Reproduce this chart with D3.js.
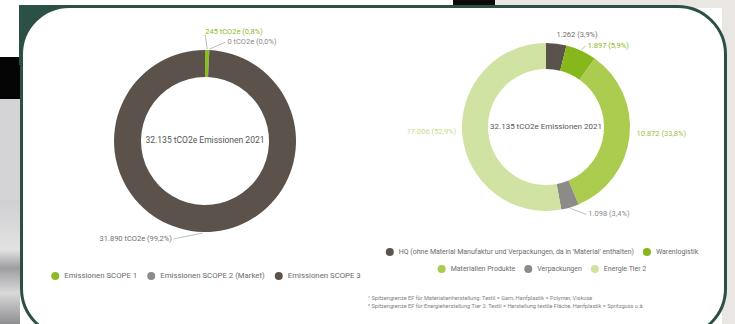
<!DOCTYPE html>
<html>
<head>
<meta charset="utf-8">
<script src="https://cdn.jsdelivr.net/npm/d3@7"></script>
<style>
  body { margin: 0; background: #fff; }
  svg { display: block; font-family: 'Liberation Sans Narrow', 'Roboto', sans-serif; }
</style>
</head>
<body>
<div id="chart"></div>
<script>
// scope chart data
var scopeNames = ["Emissionen SCOPE 1", "Emissionen SCOPE 2 (Market)", "Emissionen SCOPE 3"];
var scopeValues = [245, 0, 31890];
var scopeLabels = ["245 tCO2e (0,8%)", "0 tCO2e (0,0%)", "31.890 tCO2e (99,2%)"];

// category chart data
var catNames = ["HQ (ohne Material Manufaktur und Verpackungen, da in 'Material' enthalten)",
    "Warenlogistik", "Materialien Produkte", "Verpackungen", "Energie Tier 2"];
var catValues = [1262, 1897, 10872, 1098, 17006];
var catLabels = ["1.262 (3,9%)", "1.897 (5,9%)", "10.872 (33,8%)", "1.098 (3,4%)", "17.006 (52,9%)"];

var centerText = "32.135 tCO2e Emissionen 2021";
var footnotes = [
    "¹ Spitzengrenze EF für Materialienherstellung: Textil = Garn, Hanfplastik = Polymer, Viskose",
    "² Spitzengrenze EF für Energieherstellung Tier 2: Textil = Herstellung textile Fläche, Hanfplastik = Spritzguss o.ä."
];

var width = 735, height = 324;
var svg = d3.select("#chart").append("svg")
    .attr("width", width)
    .attr("height", height);

// background bits around the card
var defs = svg.append("defs");
var grad = defs.append("linearGradient").attr("id", "metal")
    .attr("x1", 0).attr("y1", 0).attr("x2", 0).attr("y2", 1);
grad.append("stop").attr("offset", "0%").attr("stop-color", "#cfcfd1");
grad.append("stop").attr("offset", "40%").attr("stop-color", "#e2e2e3");
grad.append("stop").attr("offset", "55%").attr("stop-color", "#9e9ea0");
grad.append("stop").attr("offset", "75%").attr("stop-color", "#d9d9da");
grad.append("stop").attr("offset", "100%").attr("stop-color", "#8f8f91");

svg.append("rect").attr("x", 0).attr("y", 57).attr("width", 20).attr("height", 42).attr("fill", "#050505");
svg.append("rect").attr("x", 0).attr("y", 99).attr("width", 20).attr("height", 101).attr("fill", "#d4d4d6");
svg.append("rect").attr("x", 0).attr("y", 200).attr("width", 20).attr("height", 124).attr("fill", "url(#metal)");
svg.append("rect").attr("x", 495).attr("y", 0).attr("width", 240).attr("height", 8).attr("fill", "#e9e6e4");
svg.append("rect").attr("x", 722).attr("y", 0).attr("width", 13).attr("height", 324).attr("fill", "#e9e6e4");
svg.append("rect").attr("x", 453).attr("y", 0).attr("width", 42).attr("height", 7).attr("fill", "#0a0a0a");

// card
var green = "#2b5046";
svg.append("rect").attr("x", 19).attr("y", 5).attr("width", 60).attr("height", 60).attr("fill", green);
svg.append("rect")
    .attr("x", 21.5).attr("y", 6.5)
    .attr("width", 704).attr("height", 330)
    .attr("rx", 48).attr("ry", 48)
    .attr("fill", "#fff")
    .attr("stroke", green)
    .attr("stroke-width", 3);

var textGray = "#6a6a6a";

function drawDonut(opt) {
    var g = svg.append("g").attr("transform", "translate(" + opt.cx + "," + opt.cy + ")");
    var pie = d3.pie().sort(null).value(function(d) { return d; });
    var arcs = pie(opt.values);
    var arc = d3.arc().innerRadius(opt.inner).outerRadius(opt.outer);
    var color = d3.scaleOrdinal().domain(d3.range(opt.values.length)).range(opt.colors);

    g.selectAll("path.slice")
        .data(arcs)
        .enter().append("path")
        .attr("class", "slice")
        .attr("d", arc)
        .attr("fill", function(d, i) { return color(i); });

    g.append("text")
        .attr("text-anchor", "middle")
        .attr("dominant-baseline", "middle")
        .attr("font-size", opt.centerSize)
        .attr("fill", "#555")
        .text(centerText);

    // labels with leaders
    var pointArc = d3.arc().innerRadius(opt.outer + 1).outerRadius(opt.outer + 1);
    arcs.forEach(function(d, i) {
        var lay = opt.layout[i];
        var mid = (d.startAngle + d.endAngle) / 2;
        var p = pointArc.centroid({startAngle: mid, endAngle: mid});
        var q = [p[0] + lay.dx, p[1] + lay.dy];
        if (lay.leader) {
            g.append("path")
                .attr("d", "M" + p[0] + "," + p[1] + "L" + (q[0] - (lay.anchor === "end" ? -2 : 2) * (lay.vertical ? 0 : 1)) + "," + (q[1] + (lay.vertical ? 3 : 0)))
                .attr("fill", "none")
                .attr("stroke", "#a0a0a0")
                .attr("stroke-width", 0.7);
        }
        g.append("text")
            .attr("x", q[0]).attr("y", q[1])
            .attr("text-anchor", lay.anchor)
            .attr("dominant-baseline", "middle")
            .attr("font-size", opt.labelSize)
            .attr("fill", opt.labelColors[i])
            .text(opt.labels[i]);
    });
}

function drawLegend(names, colors, rows, cx, ys, size, r, gap) {
    rows.forEach(function(row, ri) {
        var gRow = svg.append("g");
        var x = 0;
        row.forEach(function(idx) {
            var item = gRow.append("g").attr("transform", "translate(" + x + ",0)");
            item.append("circle").attr("cx", r).attr("cy", 0).attr("r", r).attr("fill", colors[idx]);
            var t = item.append("text")
                .attr("x", r * 2 + 5).attr("y", 0)
                .attr("dominant-baseline", "middle")
                .attr("font-size", size)
                .attr("fill", textGray)
                .text(names[idx]);
            x += r * 2 + 5 + t.node().getComputedTextLength() + gap;
        });
        var w = x - gap;
        gRow.attr("transform", "translate(" + (cx - w / 2) + "," + ys[ri] + ")");
    });
}

var scopeColors = ["#8dbb25", "#8d8b88", "#5b534b"];
var catColors = ["#5b534b", "#86b81c", "#abcc4f", "#8d8b88", "#d1e3a2"];

drawDonut({
    cx: 205, cy: 141, outer: 91, inner: 64,
    values: scopeValues, colors: scopeColors, labels: scopeLabels,
    labelColors: ["#8dbb25", "#8d8b88", "#707070"],
    centerSize: 8.5, labelSize: 7.5,
    layout: [
        {dx: -2, dy: -17, anchor: "start", leader: true, vertical: true},
        {dx: 18, dy: -7, anchor: "start", leader: true},
        {dx: -31, dy: 6, anchor: "end", leader: true}
    ]
});

drawDonut({
    cx: 546, cy: 127, outer: 84, inner: 58,
    values: catValues, colors: catColors, labels: catLabels,
    labelColors: ["#707070", "#86b81c", "#9cc43c", "#8d8b88", "#c5dc8a"],
    centerSize: 8, labelSize: 7.5,
    layout: [
        {dx: 0, dy: -8, anchor: "start", leader: false},
        {dx: 6, dy: -4, anchor: "start", leader: true},
        {dx: 6, dy: -2, anchor: "start", leader: false},
        {dx: 18, dy: 6, anchor: "start", leader: true},
        {dx: -5, dy: -3, anchor: "end", leader: false}
    ]
});

drawLegend(scopeNames, scopeColors, [[0, 1, 2]], 206, [276], 7.8, 4, 10);
drawLegend(catNames, catColors, [[0, 1], [2, 3, 4]], 542, [252, 269], 7, 4, 9);

svg.selectAll("text.foot")
    .data(footnotes)
    .enter().append("text")
    .attr("class", "foot")
    .attr("x", 368)
    .attr("y", function(d, i) { return 300 + i * 7.5; })
    .attr("font-size", 5.6)
    .attr("fill", "#808080")
    .text(function(d) { return d; });
</script>
</body>
</html>
